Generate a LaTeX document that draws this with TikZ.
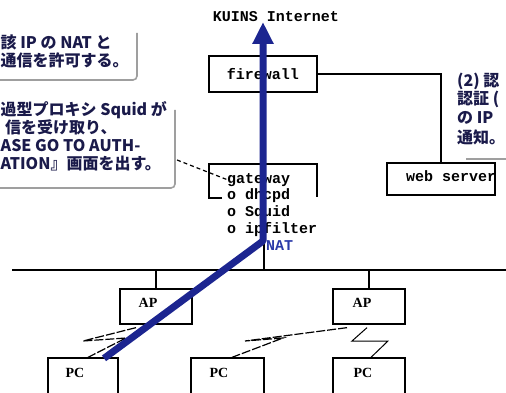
\documentclass[tikz,border=0pt]{standalone}
\usepackage{fontspec}
\newfontfamily\jp{Noto Sans CJK JP}
\newfontfamily\monof{Liberation Mono}
\newfontfamily\serf{Liberation Serif}
\usetikzlibrary{arrows.meta}
\definecolor{navy}{HTML}{1A1A4A}
\definecolor{arrowblue}{HTML}{1C2590}
\definecolor{natblue}{HTML}{2A3AA8}
\begin{document}
\begin{tikzpicture}[x=1pt,y=-1pt,
  box/.style={draw, line width=1.3pt, inner sep=0pt},
  mono/.style={font=\monof\bfseries\fontsize{15}{17}\selectfont, inner sep=0pt},
  jtext/.style={font=\jp\bfseries\fontsize{16}{18}\selectfont, text=navy, inner sep=0pt, anchor=base west},
  serif/.style={font=\serf\bfseries\fontsize{14}{16}\selectfont, inner sep=0pt, anchor=base},
  callout/.style={draw=gray!75, line width=1.6pt, rounded corners=4pt},
  wl/.style={line width=1.2pt, dash pattern=on 9pt off 2pt},
  link/.style={line width=1.2pt},
  bluearrow/.style={draw=arrowblue, line width=7pt, line join=round, -{Triangle[length=22pt,width=20pt]}}]
\useasboundingbox (0,0) rectangle (506,393);

% callouts
\draw[callout] (-3,80) -- (137,80) -- (137,33);
\draw[callout] (-3,188) -- (175,188) -- (175,110);
\draw[callout] (466,159) -- (509,159);
\node[jtext] (c1a) at (0.5,49) {該 IP の NAT と};
\node[jtext] (c1b) at (0.5,67) {通信を許可する。};
\node[jtext] (c2a) at (0.5,116) {過型プロキシ Squid が};
\node[jtext] (c2b) at (5,134) {信を受け取り、};
\node[jtext] (c2c) at (0.5,151) {ASE GO TO AUTH-};
\node[jtext] (c2d) at (0.5,169) {ATION』画面を出す。};
\node[jtext] (c3a) at (457,87) {(2) 認};
\node[jtext] (c3b) at (457,105) {認証 (};
\node[jtext] (c3c) at (457,124) {の IP};
\node[jtext] (c3d) at (457,143) {通知。};

% top
\node[mono, anchor=base] (kuins) at (276,22) {KUINS Internet};
\node[box, mono, minimum width=108pt, minimum height=36pt] (fw) at (263,74) {firewall};

% web server
\node[box, minimum width=108pt, minimum height=32pt] (web) at (441,179) {};
\node[mono, anchor=base west] (webt) at (406,182) {web server};
\draw[link] (fw.east) -- (fw.east -| web.north) -- (web.north);

% gateway
\draw[link] (222,198) -- (209,198) -- (209,164) -- (317,164) -- (317,197);
\node[mono, anchor=base west] (gw) at (227,183) {gateway};
\node[mono, anchor=base west] (gw1) at (227,199) {o dhcpd};
\node[mono, anchor=base west] (gw2) at (227,216) {o Squid};
\node[mono, anchor=base west] (gw3) at (227,233) {o ipfilter};
\node[mono, text=natblue, anchor=base west] (nat) at (266,250) {NAT};
\coordinate (c2tip) at (177,160);
\draw[line width=1.2pt, dash pattern=on 4pt off 3pt] (c2tip) -- (gw.west);

% bus
\coordinate (busL) at (12,270);
\coordinate (busR) at (506,270);
\coordinate (gwdown) at (264,242);
\draw[link] (busL) -- (busR);
\draw[link] (gwdown) -- (gwdown |- busL);

% APs
\node[box, minimum width=72pt, minimum height=35pt] (ap1) at (156,306.5) {};
\node[box, minimum width=72pt, minimum height=35pt] (ap2) at (369,306.5) {};
\node[serif] (ap1t) at (148,307) {AP};
\node[serif] (ap2t) at (362,307) {AP};
\draw[link] (ap1.north) -- (ap1.north |- busL);
\draw[link] (ap2.north) -- (ap2.north |- busL);

% PCs
\node[box, minimum width=70pt, minimum height=42pt] (pc1) at (83,379) {};
\node[box, minimum width=73pt, minimum height=42pt] (pc2) at (227.5,379) {};
\node[box, minimum width=72pt, minimum height=42pt] (pc3) at (369,379) {};
\node[serif] (pc1t) at (75,377) {PC};
\node[serif] (pc2t) at (219,377) {PC};
\node[serif] (pc3t) at (363,377) {PC};

% wireless links
\draw[wl] ([xshift=-20pt,yshift=-3pt]ap1.south) -- (83,341) -- (126,338) -- ([xshift=5pt]pc1.north);
\draw[wl] ([xshift=-22pt,yshift=-3pt]ap2.south) -- (245,341) -- (283,338) -- ([xshift=4.5pt]pc2.north);
\draw[line width=1pt] ([xshift=-2pt,yshift=-3pt]ap2.south) -- (352,341) -- (388,341) -- ([xshift=2pt]pc3.north);

% blue arrow
\coordinate (bend) at (263,241);
\draw[bluearrow] ([xshift=21pt,yshift=-1pt]pc1.north) -- (bend) -- (bend |- kuins.base);
\end{tikzpicture}
\end{document}
